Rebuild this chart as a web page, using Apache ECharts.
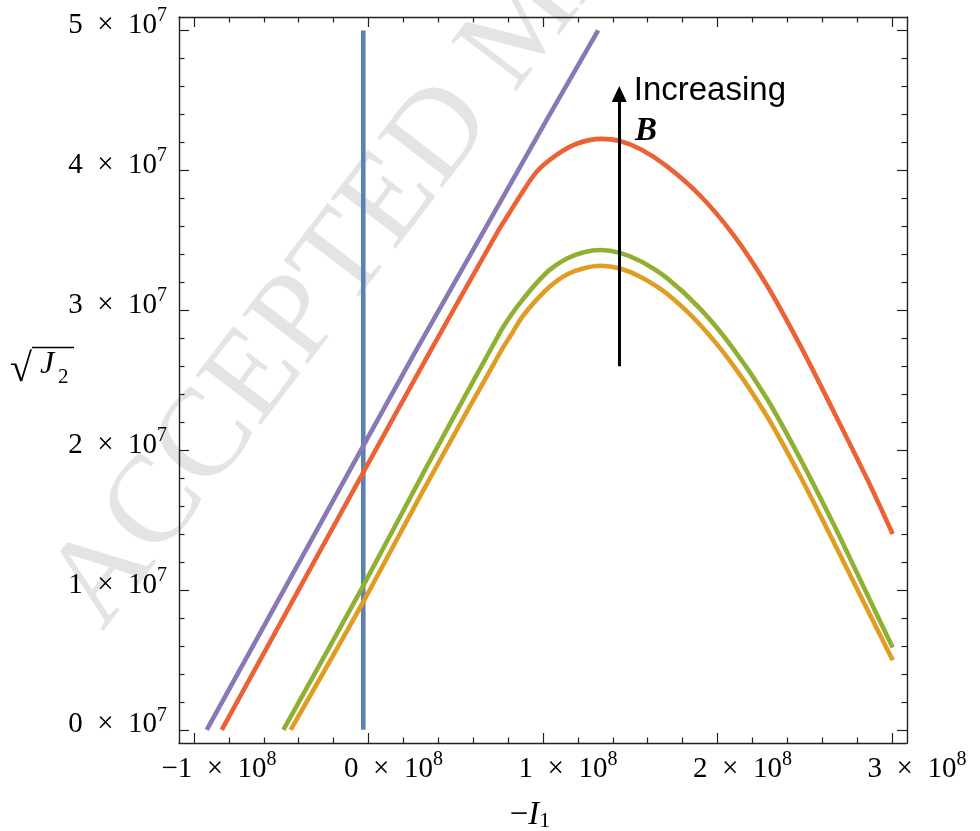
<!DOCTYPE html>
<html><head><meta charset="utf-8">
<script src="https://cdn.jsdelivr.net/npm/echarts@6/dist/echarts.min.js"></script>
<style>html,body{margin:0;padding:0;background:#fff}#c{width:980px;height:831px}</style>
</head><body><div id="c"></div>
<script>
// x values in units of 1e8 (−I1), y values in units of 1e7 (sqrt(J2))
const xTicks = [-1, 0, 1, 2, 3];
const yTicks = [0, 1, 2, 3, 4, 5];
const xMinorTicks = [-0.8,-0.6,-0.4,-0.2,0.2,0.4,0.6,0.8,1.2,1.4,1.6,1.8,2.2,2.4,2.6,2.8];
const yMinorTicks = [0.2,0.4,0.6,0.8,1.2,1.4,1.6,1.8,2.2,2.4,2.6,2.8,3.2,3.4,3.6,3.8,4.2,4.4,4.6,4.8];

const blueX = [-0.03, -0.03];
const blueY = [0, 5.0];

const purpleX = [-0.927, -0.03, 0.276, 0.658, 1.021, 1.316];
const purpleY = [0, 2.03, 2.72, 3.56, 4.36, 5.0];

const redX = [-0.841, -0.03, 0.36, 0.74, 0.80, 0.87, 0.964, 1.078, 1.193, 1.33, 1.44, 1.56, 1.709, 1.9, 2.09, 2.282, 2.473, 2.664, 2.855, 3.004];
const redY = [0, 1.84, 2.72, 3.56, 3.68, 3.82, 3.99, 4.11, 4.19, 4.225, 4.21, 4.15, 4.03, 3.82, 3.54, 3.18, 2.75, 2.28, 1.80, 1.40];

const greenX = [-0.488, -0.039, 0.333, 0.76, 0.82, 0.88, 0.96, 1.04, 1.137, 1.235, 1.329, 1.441, 1.56, 1.709, 1.9, 2.09, 2.282, 2.473, 2.664, 2.84, 3.004];
const greenY = [0, 1.01, 1.88, 2.855, 2.97, 3.07, 3.19, 3.29, 3.37, 3.415, 3.43, 3.41, 3.35, 3.231, 3.011, 2.726, 2.371, 1.941, 1.473, 1.015, 0.589];

const orangeX = [-0.446, -0.039, 0.333, 0.76, 0.82, 0.88, 0.96, 1.04, 1.137, 1.235, 1.329, 1.441, 1.56, 1.709, 1.9, 2.09, 2.282, 2.473, 2.664, 2.84, 3.004];
const orangeY = [0, 0.895, 1.755, 2.71, 2.83, 2.95, 3.07, 3.17, 3.255, 3.30, 3.318, 3.298, 3.238, 3.119, 2.896, 2.606, 2.245, 1.815, 1.347, 0.907, 0.497];

const arrowX = 1.437, arrowY0 = 2.60, arrowY1 = 4.545;
const incTextPos = [1.52, 4.45];
const bTextPos = [1.527, 4.16];

const XMIN = -1.086, XMAX = 3.086, YMIN = -0.094, YMAX = 5.096;
const SERIF = 'Liberation Serif';

function zip(a, b) { return a.map((v, i) => [v, b[i]]); }

const rich = {
  m: { fontFamily: SERIF, fontSize: 29, lineHeight: 34, verticalAlign: 'bottom', color: '#000' },
  s: { fontFamily: SERIF, fontSize: 20, lineHeight: 20, verticalAlign: 'top', color: '#000' }
};
function fmt(exp) {
  return function (v) {
    const n = Math.round(v);
    const t = n < 0 ? '\u2212' + (-n) : String(n);
    return '{m|' + t + '\u2002\u00d7\u200210}{s|' + exp + '}';
  };
}
const axLine = { show: true, onZero: false, lineStyle: { color: '#222', width: 1.4 } };
const tickStyle = { color: '#222', width: 1.2 };

function xAx(pos, ticks, len, label, line) {
  return {
    type: 'value', position: pos, min: XMIN, max: XMAX,
    axisLine: line ? axLine : { show: false, onZero: false },
    axisTick: { show: true, inside: true, length: len, customValues: ticks, lineStyle: tickStyle },
    axisLabel: label ? { show: true, customValues: ticks, formatter: fmt(8), rich: rich, margin: 7, padding: [0, 0, 0, 50] } : { show: false },
    splitLine: { show: false }, minorTick: { show: false }
  };
}
function yAx(pos, ticks, len, label, line) {
  return {
    type: 'value', position: pos, min: YMIN, max: YMAX,
    axisLine: line ? axLine : { show: false, onZero: false },
    axisTick: { show: true, inside: true, length: len, customValues: ticks, lineStyle: tickStyle },
    axisLabel: label ? { show: true, customValues: ticks, formatter: fmt(7), rich: rich, margin: 12, padding: [0, 0, 15, 0] } : { show: false },
    splitLine: { show: false }, minorTick: { show: false }
  };
}

function lineSeries(name, data, color, smooth) {
  return {
    name: name, type: 'line', data: data, showSymbol: false, symbol: 'none',
    smooth: smooth,
    lineStyle: { color: color, width: 4.6, cap: 'butt' }, silent: true,
    xAxisIndex: 0, yAxisIndex: 0, z: 3
  };
}

const chart = echarts.init(document.getElementById('c'), null, { renderer: 'canvas' });
chart.setOption({
  animation: false,
  backgroundColor: '#fff',
  grid: { left: 179, right: 73, top: 17, bottom: 88, containLabel: false },
  xAxis: [
    xAx('bottom', xTicks, 10, true, true),
    xAx('bottom', xMinorTicks, 5.5, false, false),
    xAx('top', xTicks, 10, false, true),
    xAx('top', xMinorTicks, 5.5, false, false)
  ],
  yAxis: [
    yAx('left', yTicks, 10, true, true),
    yAx('left', yMinorTicks, 5.5, false, false),
    yAx('right', yTicks, 10, false, true),
    yAx('right', yMinorTicks, 5.5, false, false)
  ],
  series: [
    lineSeries('blue', zip(blueX, blueY), '#5E81B5', false),
    lineSeries('orange', zip(orangeX, orangeY), '#E19C24', 0.3),
    lineSeries('green', zip(greenX, greenY), '#8FB032', 0.3),
    lineSeries('red', zip(redX, redY), '#EB6235', 0.3),
    lineSeries('purple', zip(purpleX, purpleY), '#8778B6', false),
    {
      name: 'arrow', type: 'line', data: [], xAxisIndex: 0, yAxisIndex: 0, z: 4,
      markLine: {
        silent: true, animation: false, symbol: ['none', 'triangle'], symbolSize: [15, 16],
        lineStyle: { color: '#000', width: 3, type: 'solid' }, label: { show: false },
        data: [[{ coord: [arrowX, arrowY0] }, { coord: [arrowX, arrowY1] }]]
      }
    }
  ]
});

const pInc = chart.convertToPixel({ xAxisIndex: 0, yAxisIndex: 0 }, incTextPos);
const pB = chart.convertToPixel({ xAxisIndex: 0, yAxisIndex: 0 }, bTextPos);
const ang = 52.6 * Math.PI / 180;

chart.setOption({
  graphic: [
    {
      type: 'text', x: 126, y: 650, rotation: ang, z: 0, silent: true,
      style: { text: 'ACCEPTED MANUSCRIPT', fontFamily: SERIF, fontSize: 125, fill: '#e4e4e4', align: 'left', verticalAlign: 'bottom' }
    },
    {
      type: 'text', x: pInc[0], y: pInc[1], z: 10, silent: true,
      style: { text: 'Increasing', fontFamily: 'Liberation Sans', fontSize: 33, fill: '#000', align: 'left', verticalAlign: 'bottom' }
    },
    {
      type: 'text', x: pB[0], y: pB[1], z: 10, silent: true,
      style: { text: 'B', fontFamily: SERIF, fontSize: 33, fontWeight: 'bold', fontStyle: 'italic', fill: '#000', align: 'left', verticalAlign: 'bottom' }
    },
    // y-axis title: sqrt(J2)
    {
      type: 'text', x: 10, y: 390, z: 10, silent: true,
      style: { text: '\u221a', fontFamily: SERIF, fontSize: 40, fill: '#000', align: 'left', verticalAlign: 'bottom' }
    },
    {
      type: 'line', z: 10, silent: true,
      shape: { x1: 32, y1: 347.5, x2: 74, y2: 347.5 }, style: { stroke: '#000', lineWidth: 1.3 }
    },
    {
      type: 'text', x: 40, y: 381, z: 10, silent: true,
      style: { text: 'J', fontFamily: SERIF, fontSize: 32, fontStyle: 'italic', fill: '#000', align: 'left', verticalAlign: 'bottom' }
    },
    {
      type: 'text', x: 58, y: 388, z: 10, silent: true,
      style: { text: '2', fontFamily: SERIF, fontSize: 21, fill: '#000', align: 'left', verticalAlign: 'bottom' }
    },
    // x-axis title: −I1
    {
      type: 'text', x: 530, y: 812, z: 10, silent: true,
      style: {
        text: '{n|\u2212}{i|I}{s|1}', align: 'center', verticalAlign: 'middle',
        rich: {
          n: { fontFamily: SERIF, fontSize: 33, lineHeight: 40, verticalAlign: 'bottom', fill: '#000' },
          i: { fontFamily: SERIF, fontSize: 33, fontStyle: 'italic', lineHeight: 40, verticalAlign: 'bottom', fill: '#000' },
          s: { fontFamily: SERIF, fontSize: 22, lineHeight: 28, verticalAlign: 'bottom', fill: '#000' }
        }
      }
    }
  ]
});
</script>
</body></html>
